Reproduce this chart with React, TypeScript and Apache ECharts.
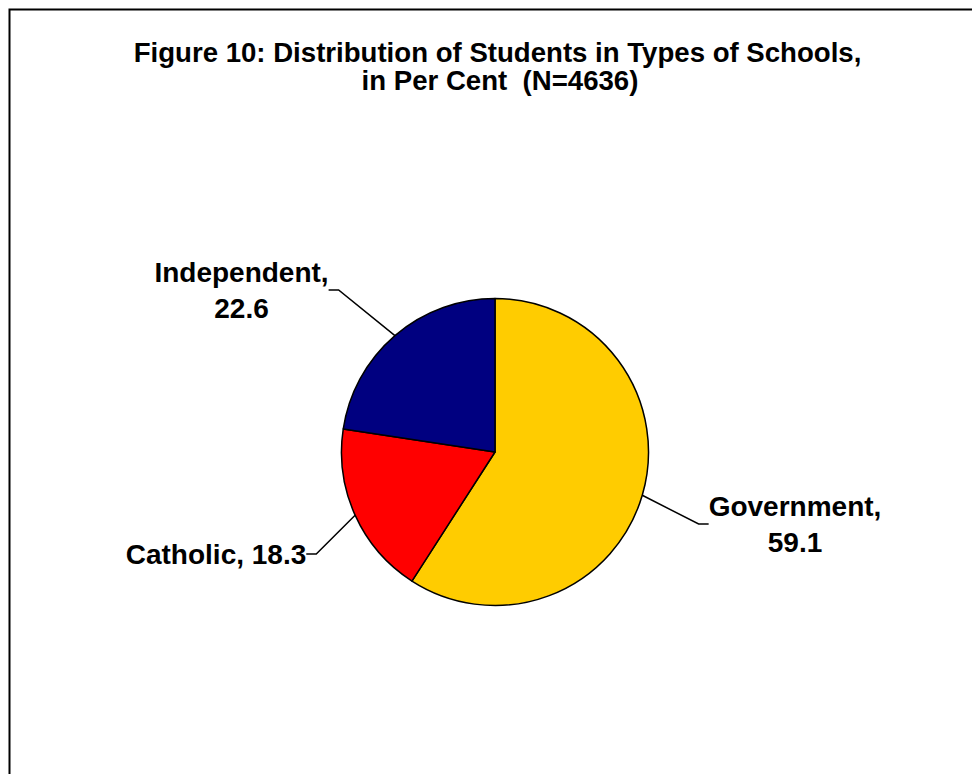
import React, { useEffect, useRef } from "react";
import * as echarts from "echarts";

const titleLines = [
  "Figure 10: Distribution of Students in Types of Schools,",
  "in Per Cent  (N=4636)",
];
const categories = ["Government", "Catholic", "Independent"];
const values = [59.1, 18.3, 22.6];
const colors = ["#FFCC00", "#FF0000", "#000080"];
const labelFormats = ["{b},\n{c}", "{b}, {c}", "{b},\n{c}"];

// label anchor positions (layout, not data)
const labelPos = [
  { x: 795, y: 524 },
  { x: 216, y: 554 },
  { x: 241.5, y: 290 },
];

const FONT = "'Liberation Sans', Arial, Helvetica, sans-serif";

export default function App() {
  const ref = useRef<HTMLDivElement>(null);
  useEffect(() => {
    if (!ref.current) return;
    const chart = echarts.init(ref.current, null, { renderer: "svg" });
    const data = categories.map((name, i) => ({
      name,
      value: values[i],
      itemStyle: { color: colors[i] },
      label: { formatter: labelFormats[i] },
    }));
    chart.setOption({
      animation: false,
      backgroundColor: "#ffffff",
      graphic: [
        {
          type: "rect",
          shape: { x: 9.5, y: 9.5, width: 1200, height: 1200 },
          style: { fill: "none", stroke: "#000", lineWidth: 2 },
          silent: true,
        },
        {
          type: "text",
          x: 497.5,
          y: 52,
          style: {
            text: titleLines[0],
            align: "center",
            verticalAlign: "middle",
            font: `bold 27.6px ${FONT}`,
            fill: "#000",
          },
        },
        {
          type: "text",
          x: 500,
          y: 80,
          style: {
            text: titleLines[1],
            align: "center",
            verticalAlign: "middle",
            font: `bold 27.6px ${FONT}`,
            fill: "#000",
          },
        },
      ],
      series: [
        {
          type: "pie",
          silent: true,
          center: [495, 452],
          radius: 153.5,
          startAngle: 90,
          clockwise: true,
          avoidLabelOverlap: false,
          itemStyle: { borderColor: "#000", borderWidth: 1.5 },
          label: {
            show: true,
            position: "outside",
            color: "#000",
            fontFamily: FONT,
            fontWeight: "bold",
            fontSize: 28,
            lineHeight: 36,
            align: "center",
          },
          labelLine: {
            show: true,
            length: 20,
            length2: 10,
            minTurnAngle: 0,
            lineStyle: { color: "#000", width: 1.5 },
          },
          labelLayout: (params: any) => {
            const p = labelPos[params.dataIndex];
            return { x: p.x, y: p.y, align: "center", verticalAlign: "middle" };
          },
          emphasis: { disabled: true },
          data,
        },
      ],
    });
    return () => chart.dispose();
  }, []);
  return (
    <div
      ref={ref}
      style={{ position: "fixed", left: 0, top: 0, width: 972, height: 774 }}
    />
  );
}
